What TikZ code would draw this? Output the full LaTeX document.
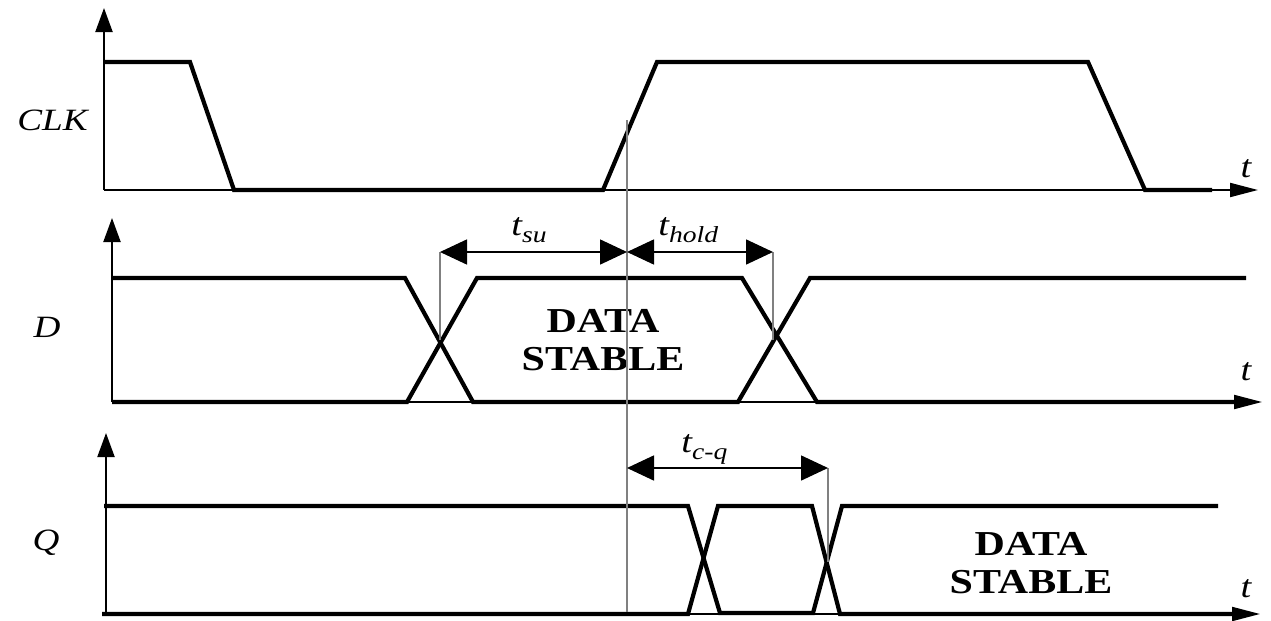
\documentclass[tikz,border=0pt]{standalone}
\usepackage{fontspec}
\usepackage{graphicx}
\setmainfont{Liberation Serif}
\usetikzlibrary{arrows.meta}
\newcommand\widetxt[1]{\scalebox{1.2}[1]{#1}}
\newcommand\subtxt[1]{\raisebox{-0.5ex}{\fontsize{11.5}{11.5}\selectfont\itshape #1}}
\begin{document}
\begin{tikzpicture}[x=0.5pt,y=-0.5pt,
  yax/.style={line width=1pt,-{Triangle[length=12pt,width=8.5pt]}},
  xax/.style={line width=1pt,-{Triangle[length=14pt,width=7pt]}},
  sig/.style={line width=2.1pt,line join=miter},
  guide/.style={line width=0.6pt,gray},
  dim/.style={line width=0.8pt,{Triangle[length=13.5pt,width=12.5pt]}-{Triangle[length=13.5pt,width=12.5pt]}},
  lbl/.style={font=\fontsize{15.5}{15.5}\selectfont\itshape,inner sep=0pt},
  tl/.style={font=\fontsize{16}{16}\selectfont\itshape,inner sep=0pt},
  stab/.style={font=\fontsize{17.5}{19}\selectfont\bfseries,align=center,inner sep=0pt}]
\useasboundingbox (0,0) rectangle (1271,621);
% ---------- CLK ----------
\coordinate (c0) at (104,190);
\coordinate (cy) at (104,8);
\coordinate (cx) at (1258,190);
\draw[yax] (c0) -- (cy);
\draw[xax] (c0) -- (cx);
\draw[sig] (104,62) -- (190,62) -- (234,190) -- (603,190) -- (657,62) -- (1088,62) -- (1145,190) -- (1212,190);
\node[lbl,anchor=base west] (clkl) at (17,130) {\widetxt{CLK}};
\node[tl,anchor=base] (t1) at (1246,177) {\widetxt{t}};
% ---------- D ----------
\coordinate (d0) at (112,402);
\coordinate (dy) at (112,218);
\coordinate (dx) at (1262,402);
\draw[yax] (d0) -- (dy);
\draw[xax] (d0) -- (dx);
\draw[sig] (112,278) -- (405,278) -- (473,402) -- (738,402) -- (810,278) -- (1246,278);
\draw[sig] (112,402) -- (407,402) -- (477,278) -- (742,278) -- (817,402) -- (1238,402);
\node[lbl,anchor=base] (dl) at (47,337) {\widetxt{D}};
\node[tl,anchor=base] (t2) at (1246,380) {\widetxt{t}};
\node[stab] (ds1) at (603,340) {\widetxt{DATA}\\\widetxt{STABLE}};
% ---------- Q ----------
\coordinate (q0) at (106,614);
\coordinate (qy) at (106,433);
\coordinate (qx) at (1260,614);
\draw[yax] (q0) -- (qy);
\draw[xax] (q0) -- (qx);
\draw[sig] (104,506) -- (688,506) -- (720,613) -- (813,613) -- (842,506) -- (1218,506);
\draw[sig] (102,614) -- (688,614) -- (718,506) -- (812,506) -- (840,614) -- (1238,614);
\node[lbl,anchor=base] (ql) at (46,550) {\widetxt{Q}};
\node[tl,anchor=base] (t3) at (1246,597) {\widetxt{t}};
\node[stab] (ds2) at (1031,563) {\widetxt{DATA}\\\widetxt{STABLE}};
% ---------- timing guides ----------
\coordinate (gtop) at (627,120);
\coordinate (gbot) at (627,612);
\draw[guide] (gtop) -- (gbot);
\coordinate (su1) at (440,252);
\coordinate (su2) at (627,252);
\coordinate (ho2) at (773,252);
\coordinate (x1) at (440,340);
\coordinate (x2) at (773,340);
\draw[guide] (su1) -- (x1);
\draw[guide] (ho2) -- (x2);
\draw[dim] (su1) -- (su2);
\draw[dim] (su2) -- (ho2);
\coordinate (cq1) at (627,468);
\coordinate (cq2) at (828,468);
\coordinate (x3) at (828,562);
\draw[guide] (cq2) -- (x3);
\draw[dim] (cq1) -- (cq2);
\node[tl,anchor=base west] (tsu) at (511,235) {\widetxt{t\subtxt{su}}};
\node[tl,anchor=base west] (thold) at (658,235) {\widetxt{t\subtxt{hold}}};
\node[tl,anchor=base west] (tcq) at (681,452) {\widetxt{t\subtxt{c-q}}};
\end{tikzpicture}
\end{document}
